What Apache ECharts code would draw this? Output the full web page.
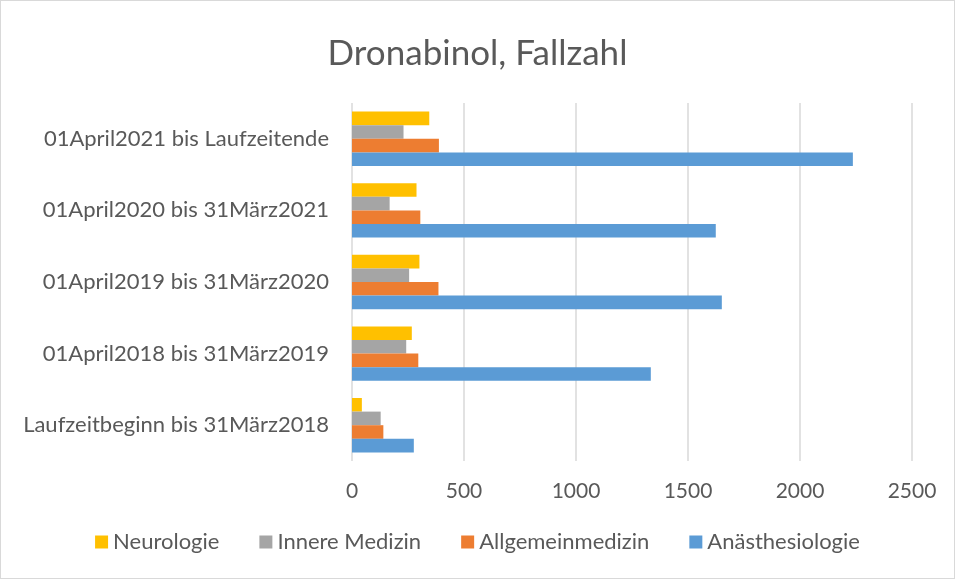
<!DOCTYPE html>
<html>
<head>
<meta charset="utf-8">
<script src="https://cdn.jsdelivr.net/npm/echarts@6/dist/echarts.min.js"></script>
<style>
  html, body { margin: 0; padding: 0; background: #fff; }
  #chart { width: 955px; height: 579px; box-sizing: border-box; border: 1px solid #d9d9d9; }
</style>
</head>
<body>
<div id="chart"></div>
<script>
// Kategorien von unten nach oben
const zeitraeume = [
  'Laufzeitbeginn bis 31März2018',
  '01April2018 bis 31März2019',
  '01April2019 bis 31März2020',
  '01April2020 bis 31März2021',
  '01April2021 bis Laufzeitende'
];
const anaesthesiologie = [276, 1334, 1651, 1624, 2236];
const allgemeinmedizin = [140, 296, 386, 305, 388];
const innereMedizin = [128, 242, 255, 168, 230];
const neurologie = [44, 267, 301, 288, 345];
const xTicks = [0, 500, 1000, 1500, 2000, 2500];

const schrift = 'Lato, "Open Sans", sans-serif';
const chart = echarts.init(document.getElementById('chart'));

const serie = (name, data, color) => ({
  name: name,
  type: 'bar',
  data: data,
  barGap: '0%',
  barCategoryGap: '24%',
  itemStyle: { color: color }
});

chart.setOption({
  backgroundColor: '#fff',
  textStyle: { fontFamily: schrift },
  title: {
    text: 'Dronabinol, Fallzahl',
    left: 'center',
    top: 30,
    textStyle: { fontFamily: schrift, fontSize: 35, fontWeight: 'normal', color: '#595959' }
  },
  legend: {
    data: ['Neurologie', 'Innere Medizin', 'Allgemeinmedizin', 'Anästhesiologie'],
    bottom: 20,
    left: 'center',
    itemWidth: 13,
    itemHeight: 13,
    itemGap: 40,
    icon: 'rect',
    textStyle: { fontFamily: schrift, fontSize: 22, color: '#595959' }
  },
  grid: { left: 351, right: 42, top: 102, bottom: 117, containLabel: false },
  xAxis: {
    type: 'value',
    min: xTicks[0],
    max: xTicks[xTicks.length - 1],
    interval: 500,
    axisLine: { show: false },
    axisTick: { show: false },
    axisLabel: {
      fontSize: 21, color: '#595959', margin: 20, fontFamily: schrift,
      formatter: (v) => String(v)
    },
    splitLine: { lineStyle: { color: '#d9d9d9', width: 1.5 } }
  },
  yAxis: {
    type: 'category',
    data: zeitraeume,
    axisLine: { show: false },
    axisTick: { show: false },
    axisLabel: { fontSize: 22, color: '#595959', margin: 23, fontFamily: schrift }
  },
  series: [
    serie('Neurologie', neurologie, '#FFC000'),
    serie('Innere Medizin', innereMedizin, '#A5A5A5'),
    serie('Allgemeinmedizin', allgemeinmedizin, '#ED7D31'),
    serie('Anästhesiologie', anaesthesiologie, '#5B9BD5')
  ]
});
</script>
</body>
</html>
